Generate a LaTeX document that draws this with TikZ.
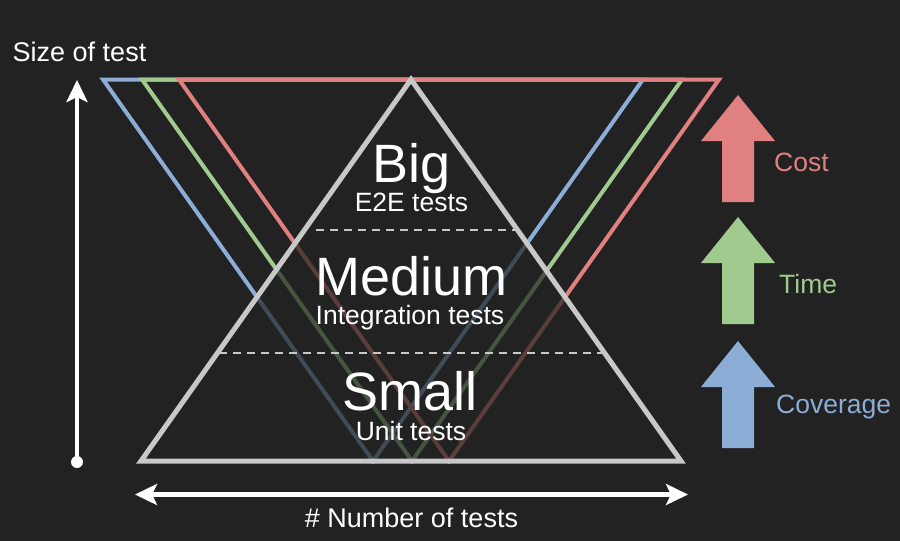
\documentclass[tikz,border=0pt]{standalone}
\usepackage{fontspec}
\setmainfont{Liberation Sans}
\usetikzlibrary{arrows.meta}

\definecolor{bg}{HTML}{222222}
\definecolor{costred}{HTML}{E08080}
\definecolor{timegreen}{HTML}{A0CA8E}
\definecolor{covblue}{HTML}{8CADD5}
\definecolor{pyr}{HTML}{C8C8C8}

\tikzset{axishead/.tip={Stealth[length=22pt, width=21pt, inset=5pt]}}

\begin{document}
\begin{tikzpicture}[x=1pt, y=-1pt,
  invtri/.style={line width=4pt, line join=miter},
  pyramid/.style={draw=pyr, line width=5pt, fill=bg, fill opacity=0.7, line join=miter},
  divider/.style={draw=pyr, line width=2.4pt, dash pattern=on 8pt off 6pt},
  title/.style={text=white, inner sep=0pt, anchor=base, font=\fontsize{54}{54}\selectfont},
  subtitle/.style={text=white, inner sep=0pt, anchor=base, font=\fontsize{26.5}{27}\selectfont},
  lbl/.style={inner sep=0pt, anchor=base west, font=\fontsize{26.5}{27}\selectfont},
  axislbl/.style={text=white, inner sep=0pt, anchor=base, font=\fontsize{27}{27}\selectfont},
  axisline/.style={draw=white, line width=4.5pt},
  blockup/.pic={\fill (0,0) -- (37,46) -- (16,46) -- (16,107) -- (-16,107) -- (-16,46) -- (-37,46) -- cycle;}
]
% canvas
\fill[bg] (0,0) rectangle (900,541);
\useasboundingbox (0,0) rectangle (900,541);

% inverted triangles: coverage, time, cost
\draw[invtri, covblue]   (103,79.5) -- (643,79.5) -- (373,461) -- cycle;
\draw[invtri, timegreen] (142,79.5) -- (682,79.5) -- (412,461) -- cycle;
\draw[invtri, costred]   (179,79.5) -- (719,79.5) -- (449,461) -- cycle;

% test pyramid, shading the lines behind it
\draw[pyramid] (411,79.5) -- (681,461) -- (141,461) -- cycle;

% level dividers
\coordinate (d1l) at (316,230);
\coordinate (d1r) at (518,230);
\coordinate (d2l) at (219,353);
\coordinate (d2r) at (606,353);
\draw[divider] (d1l) -- (d1r);
\draw[divider] (d2l) -- (d2r);

% level labels
\node[title]    (big)    at (412,182) {Big};
\node[subtitle] (e2e)    at (411.5,211) {E2E tests};
\node[title, text depth=0pt] (medium) at (411.5,295) {Medium};
\node[subtitle] (integ)  at (410,324) {Integration tests};
\node[title, text depth=0pt] (small)  at (410,410) {Small};
\node[subtitle] (unit)   at (411,440) {Unit tests};

% vertical axis
\node[circle, fill=white, minimum size=12pt, inner sep=0pt] (ybase) at (77,462) {};
\coordinate (ytop) at (77,80);
\draw[axisline, -{axishead}] (ybase.center) -- (ytop);
\node[axislbl] (ylabel) at (79.5,61) {Size of test};

% horizontal axis
\coordinate (xl) at (135,494.5);
\coordinate (xr) at (688,494.5);
\draw[axisline, {axishead}-{axishead}] (xl) -- (xr);
\node[axislbl] (xlabel) at (411.5,527) {\# Number of tests};

% trend arrows
\pic[color=costred]   at (738,95)  {blockup};
\pic[color=timegreen] at (738,217) {blockup};
\pic[color=covblue]   at (738,341) {blockup};
\node[lbl, text=costred]   (cost)     at (774,171) {Cost};
\node[lbl, text=timegreen] (time)     at (779,293) {Time};
\node[lbl, text=covblue]   (coverage) at (776,413) {Coverage};
\end{tikzpicture}
\end{document}
